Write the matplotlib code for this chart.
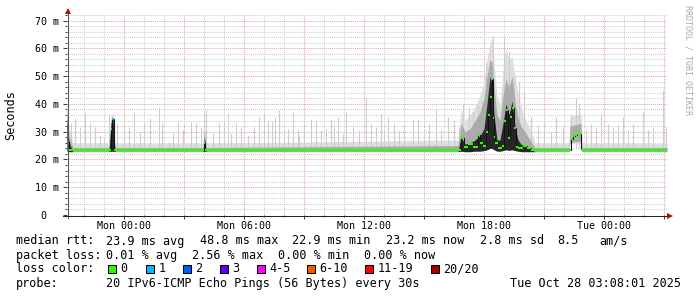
import datetime as dt

import matplotlib
matplotlib.use('Agg')
import matplotlib.dates as mdates
import matplotlib.pyplot as plt
from matplotlib.patches import Rectangle
from matplotlib.ticker import FuncFormatter, MultipleLocator

plt.rcParams['font.family'] = 'DejaVu Sans Mono'

END = dt.datetime(2025, 10, 28, 3, 8, 1)
START = END - dt.timedelta(hours=30)

# median rtt in ms, each step starts at med_h (hours after START), pings lost in that step
med_h = [0.0, 0.06, 0.12, 1.5, 2.2, 2.26, 2.33, 4.0, 5.5, 6.85, 6.92, 9.0, 12.0, 15.0, 17.0,
         19.7, 19.85, 20.05, 20.3, 20.55, 20.65, 20.8, 20.95, 21.05, 21.15, 21.25, 21.3, 21.35,
         21.4, 21.55, 21.75, 21.85, 21.95, 22.05, 22.15, 22.25, 22.35, 22.45, 22.55, 22.8,
         23.0, 23.2, 25.2, 25.3, 25.4, 25.5, 25.7, 27.0, 29.0, 30.0]
med_ms = [33.0, 26.3, 23.5, 23.4, 31.0, 34.5, 23.5, 23.5, 23.4, 26.0, 23.5, 23.4, 23.5, 23.4, 23.5,
          27.6, 24.5, 25.5, 24.4, 28.7, 25.8, 25.0, 29.8, 35.9, 42.4, 48.8, 35.0, 28.0,
          25.8, 24.0, 25.0, 34.0, 37.7, 27.6, 35.2, 38.4, 31.2, 24.4, 24.0, 25.0,
          24.0, 23.5, 27.5, 28.3, 28.8, 29.3, 23.4, 23.5, 23.4, 23.2]
med_loss = [0, 0, 0, 0, 1, 1, 0, 0, 0, 0, 0, 0, 0, 0, 0,
            0, 0, 0, 0, 0, 0, 0, 0, 0, 0, 0, 0, 0,
            0, 0, 0, 0, 0, 0, 0, 0, 0, 0, 0, 0,
            0, 0, 0, 0, 0, 0, 0, 0, 0, 0]

# smoke envelope (ms): lowest ping, dense core, middle band, outer halo
smoke_h = [0.0, 0.1, 0.3, 2.1, 2.2, 2.3, 2.4, 6.8, 6.87, 6.95,
           19.55, 19.7, 19.9, 20.15, 20.4, 20.65, 20.85, 21.0, 21.15, 21.25,
           21.35, 21.5, 21.65, 21.8, 21.95, 22.1, 22.25, 22.4, 22.55, 22.7,
           22.9, 23.15, 23.4, 25.1, 25.15, 25.7, 25.75, 30.0]
smoke_lo = [23.0, 22.8, 22.8, 22.8, 23.0, 23.0, 22.8, 22.8, 23.0, 22.8,
            22.8, 23.0, 22.8, 22.8, 23.0, 23.0, 23.2, 23.5, 24.0, 24.0,
            23.5, 23.0, 23.0, 23.2, 23.5, 23.3, 23.5, 23.2, 23.0, 22.8,
            22.8, 22.8, 22.8, 22.8, 26.0, 26.5, 22.8, 22.8]
smoke_core = [35.0, 26.0, 22.8, 22.8, 33.0, 35.0, 22.8, 22.8, 28.0, 22.8,
              22.8, 28.0, 25.5, 26.0, 27.0, 28.5, 31.0, 40.0, 50.0, 47.0,
              36.0, 27.0, 27.0, 33.0, 40.0, 36.0, 41.0, 32.0, 27.0, 25.5,
              25.0, 24.0, 22.8, 22.8, 26.0, 26.5, 22.8, 22.8]
smoke_mid = [38.0, 28.0, 24.3, 24.3, 34.0, 35.5, 24.3, 24.3, 30.0, 24.3,
             25.0, 33.0, 30.0, 31.0, 34.0, 37.0, 42.0, 50.0, 56.0, 55.0,
             46.0, 36.0, 34.0, 43.0, 49.0, 46.0, 50.0, 41.0, 35.0, 32.0,
             30.0, 27.0, 24.3, 24.3, 32.0, 33.0, 24.3, 24.3]
smoke_hi = [42.0, 31.0, 25.8, 25.8, 36.0, 36.5, 25.8, 25.8, 33.0, 25.8,
            27.0, 38.0, 34.0, 36.0, 39.0, 43.0, 48.0, 56.0, 62.0, 64.0,
            55.0, 43.0, 40.0, 52.0, 60.0, 56.0, 57.0, 50.0, 44.0, 39.0,
            35.0, 31.0, 25.8, 25.8, 35.5, 36.5, 25.8, 25.8]

# single slow pings (thin light needles)
spike_h = [0.05, 0.22, 0.42, 0.67, 0.88, 1.17, 1.42, 1.67, 1.83, 2.08, 2.5, 2.83, 3.08, 3.33,
           3.67, 3.83, 4.17, 4.58, 4.75, 5.08, 5.28, 5.53, 5.78, 6.2, 6.45, 6.7, 6.87, 6.95,
           7.28, 7.62, 7.87, 8.03, 8.2, 8.45, 8.7, 9.03, 9.37, 9.62, 9.87, 10.03, 10.25, 10.42,
           10.62, 10.87, 11.03, 11.28, 11.53, 11.62, 11.87, 12.2, 12.45, 12.7, 12.95, 13.2,
           13.37, 13.53, 13.78, 13.95, 14.28, 14.62, 14.97, 15.2, 15.45, 15.7, 15.87, 16.03,
           16.37, 16.62, 16.87, 17.28, 17.53, 17.87, 18.12, 18.45, 18.7, 19.03, 19.37, 19.62,
           19.78, 20.12, 20.32, 20.53, 20.75, 20.95, 21.28, 21.87, 22.12, 22.37, 22.62, 22.87,
           23.2, 23.53, 23.87, 24.2, 24.45, 24.78, 25.2, 25.45, 25.6, 25.95, 26.2, 26.45, 26.7,
           27.03, 27.28, 27.53, 27.78, 28.03, 28.28, 28.78, 29.03, 29.28, 29.78, 29.95]
spike_ms = [45.0, 33.0, 34.8, 31.6, 36.6, 33.0, 31.6, 28.7, 27.6, 35.9, 33.0, 31.2, 31.6, 37.0,
            29.8, 33.0, 34.8, 38.4, 33.0, 26.3, 29.4, 33.5, 30.5, 33.5, 33.0, 31.7, 37.0, 37.7,
            29.4, 33.0, 34.0, 36.6, 29.4, 33.0, 31.6, 28.7, 31.6, 35.3, 36.6, 34.0, 34.0, 35.3,
            37.7, 30.5, 31.1, 37.0, 30.5, 28.7, 32.3, 34.7, 34.0, 30.5, 31.1, 34.7,
            32.3, 35.3, 29.3, 37.0, 32.3, 30.5, 42.5, 32.9, 31.7, 36.5, 30.5, 35.3,
            32.9, 30.5, 32.3, 34.7, 34.4, 30.5, 32.9, 38.3, 30.5, 35.3, 34.0, 31.7,
            40.1, 38.9, 37.0, 39.5, 40.7, 55.0, 64.6, 64.0, 59.2, 50.3, 47.8, 44.3,
            35.3, 32.3, 33.5, 29.9, 35.3, 31.7, 35.9, 42.0, 40.0, 30.5, 32.9, 31.7, 36.5,
            32.9, 31.7, 32.3, 35.3, 30.5, 32.9, 37.0, 30.5, 31.7, 44.9, 31.7]

y_ticks = [0, 10, 20, 30, 40, 50, 60, 70]
y_labels = ['0  ', '10 m', '20 m', '30 m', '40 m', '50 m', '60 m', '70 m']

loss_names = ['0', '1', '2', '3', '4-5', '6-10', '11-19', '20/20']
loss_colors = ['#26ff00', '#00b8ff', '#0059ff', '#5e00ff', '#ff00ff', '#ff5500', '#ff0000', '#a00000']

rtt_row = [('median rtt:', 16), ('23.9 ms avg', 107), ('48.8 ms max', 200), ('22.9 ms min', 293),
           ('23.2 ms now', 387), ('2.8 ms sd', 480), ('8.5', 558), ('am/s', 600)]
loss_row = [('packet loss:', 16), ('0.01 % avg', 107), ('2.56 % max', 193),
            ('0.00 % min', 279), ('0.00 % now', 365)]
box_x = [108, 146, 183, 220, 257, 307, 365, 431]


def at(hours):
    return mdates.date2num([START + dt.timedelta(hours=h) for h in hours])


W, H = 697, 297
fig = plt.figure(figsize=(W / 100, H / 100), dpi=100)
fig.patch.set_facecolor('white')
ax = fig.add_axes([67 / W, (H - 215) / H, 600 / W, 200 / H])

t_s = at(smoke_h)
ax.fill_between(t_s, smoke_lo, smoke_hi, color='#dedede', lw=0, zorder=1)
ax.vlines(at(spike_h), 24, spike_ms, color='#cccccc', lw=0.75, zorder=1.1)
ax.fill_between(t_s, smoke_lo, smoke_mid, color='#ababab', lw=0, zorder=1.2)
ax.fill_between(t_s, smoke_lo, smoke_core, color='#262626', lw=0, zorder=1.4)

t_m = at(med_h)
ax.step(t_m, med_ms, where='post', color='#111111', lw=0.75, zorder=3)
ax.hlines(med_ms[:-1], t_m[:-1], t_m[1:], colors=[loss_colors[n] for n in med_loss[:-1]],
          lw=1.5, zorder=3.5)

ax.set_xlim(at([0, 30]))
ax.set_ylim(0, 72)
ax.xaxis.set_major_locator(mdates.HourLocator(byhour=range(0, 24, 3)))
ax.xaxis.set_minor_locator(mdates.HourLocator())


def xfmt(v, pos):
    d = mdates.num2date(v)
    return d.strftime('%a %H:%M') if d.hour % 6 == 0 else ''


ax.xaxis.set_major_formatter(FuncFormatter(xfmt))
ax.set_yticks(y_ticks, y_labels)
ax.yaxis.set_minor_locator(MultipleLocator(2))

ax.set_axisbelow(True)
ax.grid(which='major', color='#e8a4a4', ls=(0, (1, 1)), lw=0.75)
ax.grid(which='minor', color='#cfcfcf', ls=(0, (1, 1)), lw=0.75)
for s in ax.spines.values():
    s.set_visible(False)
ax.tick_params(which='both', direction='out', color='#2c4d43', width=0.75, labelsize=7.2)
ax.tick_params(which='major', length=3)
ax.tick_params(which='minor', length=1.5)
ax.tick_params(axis='x', pad=1.5)
ax.tick_params(axis='y', pad=3)

# overlay in pixel coordinates for axis lines, arrows and the legend block
ov = fig.add_axes([0, 0, 1, 1], zorder=5)
ov.set_xlim(0, W)
ov.set_ylim(H, 0)
ov.axis('off')
ov.patch.set_alpha(0)
ov.plot([67.5, 67.5], [218, 12], color='#555555', lw=0.75)
ov.plot([63, 668], [215.5, 215.5], color='#222222', lw=0.75)
ov.plot([67.5], [11], marker='^', ms=5, color='#a01414', mew=0)
ov.plot([670], [215.5], marker='>', ms=5, color='#a01414', mew=0)

ov.text(11, 115, 'Seconds', rotation=90, ha='center', va='center', fontsize=8.5)
ov.text(688, 5, 'RRDTOOL / TOBI OETIKER', rotation=270, ha='center', va='top',
        fontsize=6, color='#aaaaaa')

for s, x in rtt_row:
    ov.text(x - 0.5, 244.5, s, fontsize=8.5, va='baseline')
for s, x in loss_row:
    ov.text(x - 0.5, 258.7, s, fontsize=8.5, va='baseline')
ov.text(15.5, 272.5, 'loss color:', fontsize=8.5, va='baseline')
for name, c, x in zip(loss_names, loss_colors, box_x):
    ov.add_patch(Rectangle((x, 264.5), 8, 8, facecolor=c, edgecolor='black', lw=0.75))
    ov.text(x + 12.5, 272.5, name, fontsize=8.5, va='baseline')
ov.text(15.5, 287, 'probe:', fontsize=8.5, va='baseline')
ov.text(106.5, 287, '20 IPv6-ICMP Echo Pings (56 Bytes) every 30s', fontsize=8.5, va='baseline')
ov.text(680.5, 287, END.strftime('%a %b %d %H:%M:%S %Y'), fontsize=8.5, va='baseline', ha='right')

fig.savefig('out.png', dpi=100, facecolor='white')
